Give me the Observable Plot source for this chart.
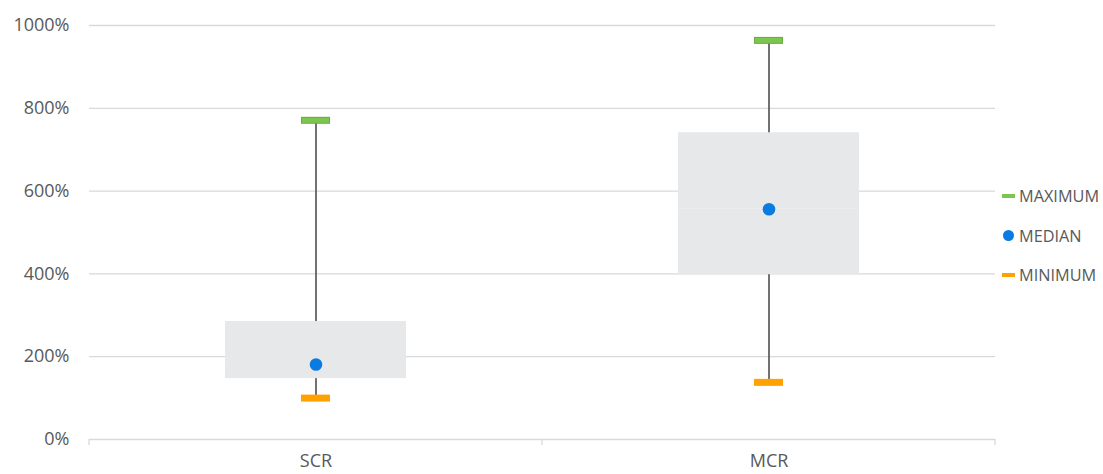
<!DOCTYPE html>
<html>
<head>
<meta charset="utf-8">
<script src="https://cdn.jsdelivr.net/npm/d3@7"></script>
<script src="https://cdn.jsdelivr.net/npm/@observablehq/plot@0.6"></script>
<style>
  html, body { margin: 0; padding: 0; background: #fff; }
  #wrap { position: relative; width: 1103px; height: 474px; font-family: "Open Sans", sans-serif; }
  #legend { position: absolute; left: 1002px; top: 186px; color: #595959; font-size: 16.3px; line-height: 20px; }
  .li { display: flex; align-items: center; height: 20px; margin-bottom: 19.5px; white-space: nowrap; }
  .sw { display: inline-block; width: 13px; margin-right: 4px; }
</style>
</head>
<body>
<div id="wrap"><div id="chart"></div><div id="legend"></div></div>
<script>
// Data (values in percent)
const categories = ["SCR", "MCR"];
const minimum = [100, 138];
const q1 = [147, 398];
const median = [181, 556];
const q3 = [285, 741];
const maximum = [771, 964];
const yTicks = [0, 200, 400, 600, 800, 1000];
const legendLabels = ["MAXIMUM", "MEDIAN", "MINIMUM"];

const colors = {
  max: "#7CC64F", maxEdge: "#67AE43", median: "#0A7BE0", min: "#FFA200",
  box: "#E7E8EA", whisker: "#595959", grid: "#D9D9D9", text: "#595959"
};

const rows = categories.map((c, i) => ({
  cat: c, min: minimum[i], q1: q1[i], med: median[i], q3: q3[i], max: maximum[i]
}));

// boundary ticks on the category axis
function boundaryTicks(index, scales, values, dimensions) {
  const x = scales.x;
  const bw = typeof x.bandwidth === "function" ? x.bandwidth() : x.bandwidth;
  const centers = categories.map(c => x(c) + bw / 2);
  const left = dimensions.marginLeft, right = dimensions.width - dimensions.marginRight;
  const xs = [left];
  for (let i = 0; i < centers.length - 1; i++) xs.push((centers[i] + centers[i + 1]) / 2);
  xs.push(right);
  const y0 = scales.y(0);
  const g = d3.create("svg:g");
  for (const v of xs) {
    g.append("line").attr("x1", v).attr("x2", v).attr("y1", y0).attr("y2", y0 + 6)
      .attr("stroke", colors.grid).attr("stroke-width", 1.3);
  }
  return g.node();
}

const chart = Plot.plot({
  width: 1103,
  height: 474,
  marginLeft: 89,
  marginRight: 108,
  marginTop: 25,
  marginBottom: 35,
  style: { fontFamily: "Open Sans, sans-serif", background: "#fff" },
  x: { type: "band", domain: categories, paddingInner: 0.6, paddingOuter: 0.3, label: null },
  y: { domain: [0, 1000], label: null },
  marks: [
    Plot.ruleY(yTicks, { y: d => d, stroke: colors.grid, strokeWidth: 1.3 }),
    boundaryTicks,
    Plot.axisY({ ticks: yTicks, tickSize: 0, tickPadding: 20, tickFormat: d => d + "%", fontSize: 18, fill: colors.text, label: null }),
    Plot.axisX({ tickSize: 0, tickPadding: 15, fontSize: 18, fill: colors.text, label: null }),
    Plot.ruleX(rows, { x: "cat", y1: "min", y2: "max", stroke: colors.whisker, strokeWidth: 1.7 }),
    Plot.barY(rows, { x: "cat", y1: "q1", y2: "med", fill: colors.box }),
    Plot.barY(rows, { x: "cat", y1: "med", y2: "q3", fill: colors.box }),
    Plot.ruleY(rows, { x: "cat", y: "med", stroke: "#fff", strokeOpacity: 0.35, strokeWidth: 0.6 }),
    Plot.tickY(rows, { x: "cat", y: "max", stroke: colors.maxEdge, strokeWidth: 7, insetLeft: 76, insetRight: 76 }),
    Plot.tickY(rows, { x: "cat", y: "max", stroke: colors.max, strokeWidth: 5, insetLeft: 77, insetRight: 77 }),
    Plot.tickY(rows, { x: "cat", y: "min", stroke: colors.min, strokeWidth: 7, insetLeft: 76, insetRight: 76 }),
    Plot.dot(rows, { x: "cat", y: "med", r: 6.3, fill: colors.median, stroke: null })
  ]
});
document.getElementById("chart").appendChild(chart);

// legend
const legend = document.getElementById("legend");
const swatches = [
  `<span class="sw" style="height:4px;background:${colors.max};"></span>`,
  `<span class="sw" style="height:11px;"><span style="display:block;width:11px;height:11px;border-radius:50%;background:${colors.median};margin-left:1px;"></span></span>`,
  `<span class="sw" style="height:4px;background:${colors.min};"></span>`
];
legendLabels.forEach((t, i) => {
  const d = document.createElement("div");
  d.className = "li";
  d.innerHTML = swatches[i] + `<span>${t}</span>`;
  legend.appendChild(d);
});
</script>
</body>
</html>
